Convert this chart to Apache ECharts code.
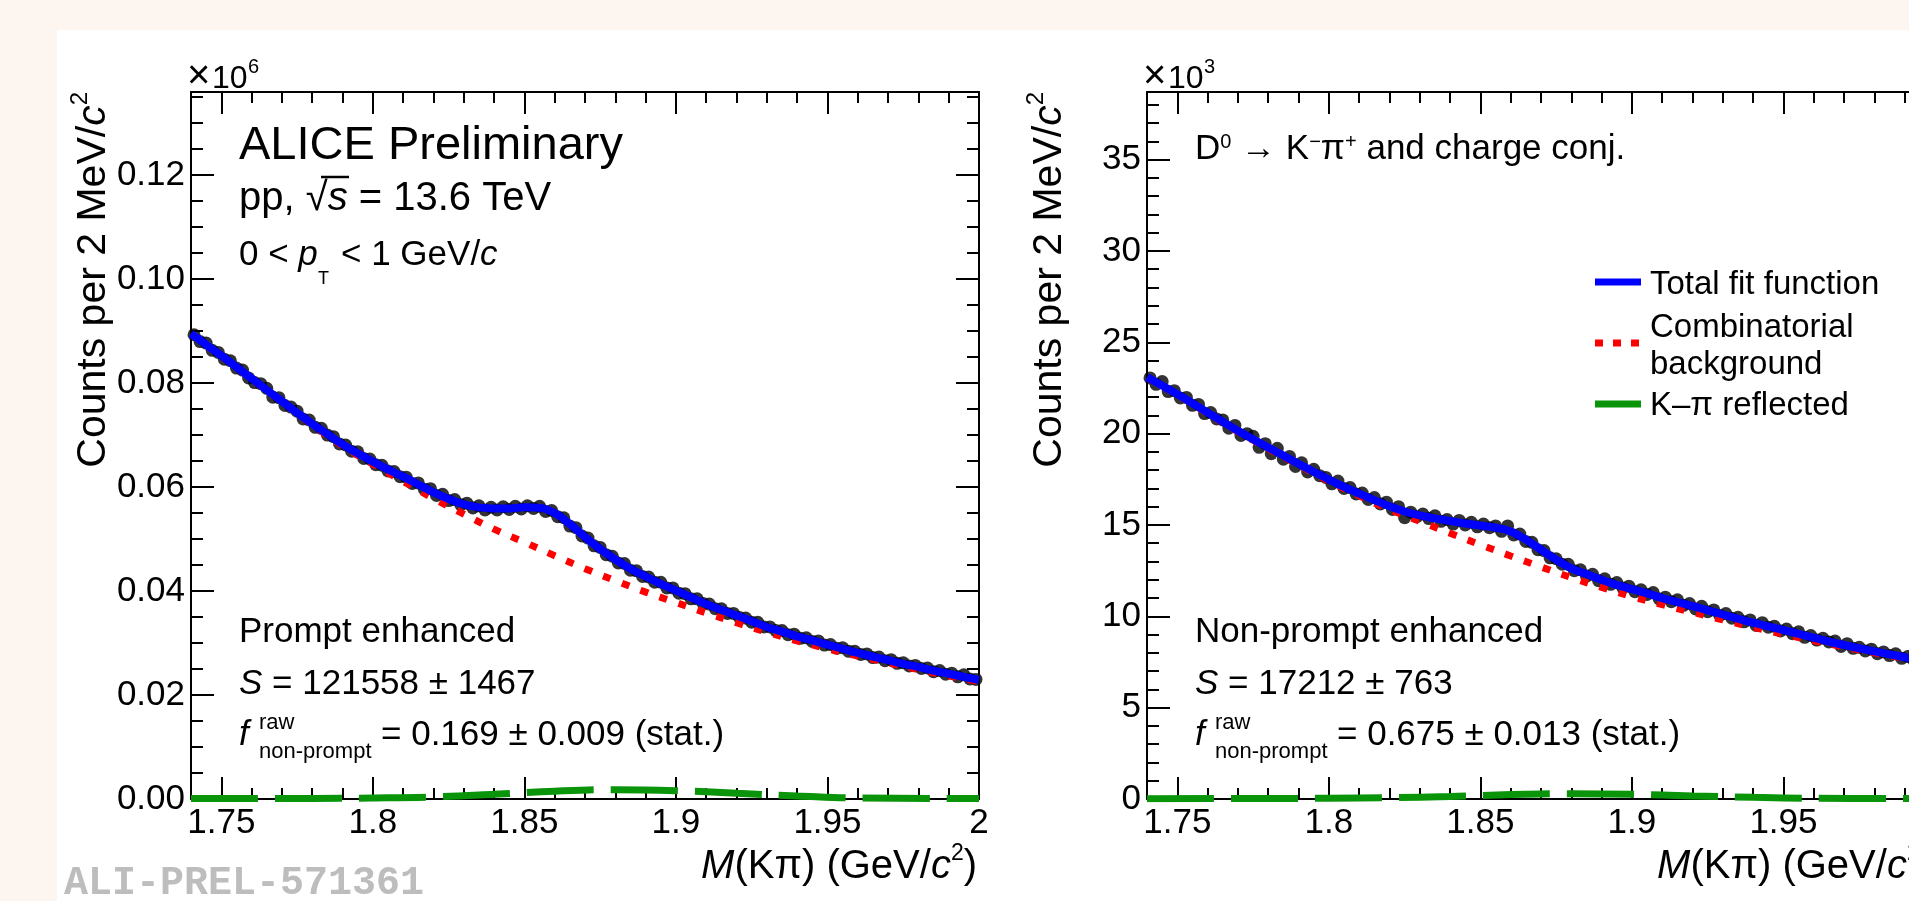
<!DOCTYPE html>
<html><head><meta charset="utf-8">
<script src="https://cdn.jsdelivr.net/npm/echarts/dist/echarts.min.js"></script>
<style>
html,body{margin:0;padding:0;background:#fdf5f0;overflow:hidden;width:1909px;height:901px;}
#panel{position:absolute;left:57px;top:30px;right:0;bottom:0;background:#ffffff;}
#chart{position:absolute;left:0;top:0;width:1909px;height:901px;}
</style></head><body>
<div id="panel"></div><div id="chart"></div>
<script>
// ---------------- data ----------------
const binLo = 1.741, binW = 0.002;          // histogram bin centres
const fitLo = 1.74, fitStep = 0.005, redStep = 0.01;
const xMin = 1.74, xMax = 2.0;
const yMaxL = 0.136, yMaxR = 38.7;           // x10^6 and x10^3
const xTickStep = 0.05, yTickStepL = 0.02, yTickStepR = 5;

// Prompt enhanced (x10^6 counts)
const dataL = [
0.0893,0.0880,0.0877,0.0863,0.0859, 0.0846,0.0843,0.0829,0.0825,0.0810,
0.0801,0.0799,0.0790,0.0773,0.0772, 0.0757,0.0754,0.0746,0.0731,0.0729,
0.0715,0.0713,0.0700,0.0697,0.0683, 0.0681,0.0669,0.0668,0.0655,0.0654,
0.0643,0.0642,0.0631,0.0630,0.0620, 0.0619,0.0607,0.0608,0.0596,0.0597,
0.0584,0.0586,0.0574,0.0576,0.0566, 0.0569,0.0560,0.0564,0.0556,0.0561,
0.0556,0.0562,0.0557,0.0563,0.0558, 0.0564,0.0559,0.0563,0.0553,0.0555,
0.0543,0.0541,0.0525,0.0522,0.0506, 0.0502,0.0487,0.0484,0.0470,0.0467,
0.0454,0.0453,0.0440,0.0439,0.0428, 0.0427,0.0417,0.0417,0.0406,0.0406,
0.0396,0.0395,0.0385,0.0385,0.0376, 0.0375,0.0366,0.0366,0.0357,0.0357,
0.0349,0.0348,0.0340,0.0340,0.0331, 0.0331,0.0324,0.0324,0.0316,0.0317,
0.0309,0.0310,0.0303,0.0304,0.0296, 0.0297,0.0290,0.0291,0.0284,0.0284,
0.0278,0.0279,0.0272,0.0273,0.0266, 0.0268,0.0261,0.0262,0.0256,0.0257,
0.0251,0.0252,0.0245,0.0247,0.0240, 0.0242,0.0235,0.0239,0.0231,0.0230];
const blueL = [
0.0895,0.0874,0.0853,0.0831,0.0809,0.0787,0.0765,0.0743,0.0722,0.0702,
0.0682,0.0665,0.0649,0.0634,0.0620,0.0605,0.0590,0.0577,0.0567,0.0561,
0.0559,0.0559,0.0561,0.0560,0.0550,0.0529,0.0504,0.0481,0.0461,0.0443,
0.0428,0.0414,0.0401,0.0388,0.0375,0.0364,0.0353,0.0342,0.0331,0.0322,
0.0313,0.0305,0.0297,0.0289,0.0281,0.0274,0.0267,0.0260,0.0254,0.0247,
0.0241,0.0235,0.0229];
const redL = [0.0894,0.0852,0.0808,0.0764,0.0720,0.0679,0.0644,0.0611,0.0578,0.0548,
0.0519,0.0494,0.0468,0.0443,0.0420,0.0398,0.0378,0.0358,0.0339,0.0321,
0.0304,0.0289,0.0275,0.0262,0.0249,0.0237,0.0226];
const greenX = [1.74,1.78,1.80,1.82,1.84,1.86,1.88,1.90,1.92,1.94,1.96,2.00];
const greenL = [0.0001,0.0001,0.0002,0.0004,0.0009,0.0015,0.0018,0.0016,0.0011,0.0006,0.0002,0.0001];

// Non-prompt enhanced (x10^3 counts)
const dataR = [
23.05,22.70,22.85,22.30,22.35, 21.95,21.98,21.55,21.60,21.10,
21.15,20.80,20.75,20.30,20.45, 19.90,20.00,19.85,19.25,19.45,
18.90,19.20,18.60,18.75,18.20, 18.40,17.90,18.05,17.70,17.60,
17.25,17.40,17.00,17.05,16.70, 16.75,16.40,16.50,16.15,16.25,
15.85,16.00,15.40,15.70,15.45, 15.60,15.35,15.50,15.20,15.30,
15.05,15.25,15.00,15.15,14.90, 15.05,14.85,14.95,14.65,14.95,
14.45,14.50,14.10,14.05,13.65, 13.60,13.20,13.15,12.85,12.85,
12.50,12.55,12.20,12.30,11.95, 12.05,11.75,11.85,11.55,11.65,
11.35,11.45,11.20,11.30,10.95, 11.05,10.80,10.90,10.60,10.70,
10.40,10.55,10.25,10.35,10.05, 10.15,9.90,9.95,9.70,9.80,
9.50,9.65,9.40,9.45,9.20, 9.30,9.05,9.15,8.85,8.95,
8.70,8.80,8.60,8.65,8.35, 8.50,8.25,8.30,8.10,8.20,
7.95,8.05,7.85,7.95,7.70, 7.80,7.60,7.65,7.50,7.55];
const blueR = [
23.09,22.63,22.16,21.66,21.15,20.65,20.16,19.69,19.24,18.80,
18.35,17.91,17.49,17.09,16.72,16.36,16.03,15.74,15.52,15.36,
15.22,15.08,14.97,14.86,14.64,14.20,13.65,13.10,12.63,12.31,
12.00,11.72,11.49,11.26,11.00,10.78,10.56,10.33,10.10,9.87,
9.65,9.45,9.25,9.04,8.83,8.62,8.43,8.25,8.08,7.92,
7.76,7.60,7.45];
const redR = [23.05,22.12,21.10,20.10,19.18,18.28,17.40,16.60,15.85,15.20,
14.55,13.92,13.30,12.70,12.12,11.58,11.08,10.64,10.22,9.80,
9.40,9.02,8.66,8.32,8.00,7.70,7.42];
const greenR = [0.02,0.03,0.04,0.07,0.14,0.24,0.29,0.26,0.17,0.09,0.04,0.02];

// ---------------- helpers ----------------
const FONT = "'Liberation Sans', Arial, Helvetica, sans-serif";
const binX = dataL.map((_, i) => +(binLo + i * binW).toFixed(3));
const fitX = blueL.map((_, i) => +(fitLo + i * fitStep).toFixed(3));
const redX = redL.map((_, i) => +(fitLo + i * redStep).toFixed(2));
const pairs = (xs, ys) => ys.map((v, i) => [xs[i], v]);
const onStep = (v, s) => Math.abs(v / s - Math.round(v / s)) < 1e-6;

const axLine = {show: true, onZero: false, lineStyle: {color: '#000', width: 2}};
function xAx(grid, pos, showLab) {
  return {type: 'value', gridIndex: grid, position: pos, min: xMin, max: xMax, splitNumber: 5,
    axisLine: axLine,
    axisTick: {show: true, inside: true, length: 22, lineStyle: {color: '#000', width: 2}},
    minorTick: {show: true, splitNumber: 5, length: 11, lineStyle: {color: '#000', width: 2}},
    splitLine: {show: false}, minorSplitLine: {show: false},
    axisLabel: {show: showLab, margin: 7, color: '#000', fontSize: 35, fontFamily: FONT,
      formatter: v => onStep(v, xTickStep) ? String(+v.toFixed(3)) : ''}};
}
function yAx(grid, pos, max, split, minor, step, dec, showLab) {
  return {type: 'value', gridIndex: grid, position: pos, min: 0, max: max, splitNumber: split,
    axisLine: axLine,
    axisTick: {show: true, inside: true, length: 23, lineStyle: {color: '#000', width: 2}},
    minorTick: {show: true, splitNumber: minor, length: 12, lineStyle: {color: '#000', width: 2}},
    splitLine: {show: false}, minorSplitLine: {show: false},
    axisLabel: {show: showLab, margin: 6, color: '#000', fontSize: 35, fontFamily: FONT,
      formatter: v => onStep(v, step) ? v.toFixed(dec) : ''}};
}
function seriesFor(xi, yi, data, blue, red, green) {
  return [
    {type: 'scatter', xAxisIndex: xi, yAxisIndex: yi, data: pairs(binX, data), symbol: 'circle', symbolSize: 13,
     itemStyle: {color: '#000'}, z: 2, silent: true},
    {type: 'line', xAxisIndex: xi, yAxisIndex: yi, data: pairs(greenX, green), showSymbol: false, symbol: 'none', smooth: 0.4,
     lineStyle: {color: '#0a940a', width: 7, type: [67, 17], cap: 'butt'}, z: 3, silent: true},
    {type: 'line', xAxisIndex: xi, yAxisIndex: yi, data: pairs(redX, red), showSymbol: false, symbol: 'none', smooth: 0.4,
     lineStyle: {color: '#ff0000', width: 7, type: [8, 12], cap: 'butt'}, z: 4, silent: true},
    {type: 'line', xAxisIndex: xi, yAxisIndex: yi, data: pairs(fitX, blue), showSymbol: false, symbol: 'none', smooth: 0.4,
     lineStyle: {color: '#0000ff', width: 8}, z: 5, silent: true}
  ];
}

// ---------------- texts ----------------
const g = [];
function rich(s, L, sup) {
  return {
    n: {fontSize: s, fontFamily: FONT, lineHeight: L, fill: '#000'},
    i: {fontSize: s, fontFamily: FONT, fontStyle: 'italic', lineHeight: L, fill: '#000'},
    s: {fontSize: sup, fontFamily: FONT, lineHeight: sup, verticalAlign: 'top', fill: '#000'}
  };
}
function txt(x, base, size, text, o) {
  o = o || {};
  g.push({type: 'text', x: x, y: base - 0.35 * size, z: 100, silent: true,
    style: {text: text, fontSize: size, fontFamily: o.family || FONT, fontStyle: o.italic ? 'italic' : 'normal',
      fontWeight: o.bold ? 'bold' : 'normal', fill: o.color || '#000', align: o.align || 'left',
      verticalAlign: 'middle', rich: o.rich}});
}
function line(x1, y1, x2, y2, color, w, dash) {
  g.push({type: 'line', z: 100, silent: true, shape: {x1, y1, x2, y2},
    style: {stroke: color, lineWidth: w, lineDash: dash || null, lineCap: 'butt'}});
}

function panelTexts(ax, rightX, isLeft) {
  const ox = ax + 48;
  // multiplier
  txt(ax - 4, 91, 40, '\u00d7');
  txt(ax + 21, 90, 32, '10');
  txt(ax + 57, 74, 20, isLeft ? '6' : '3');
  // y title (rotated)
  g.push({type: 'text', x: ax - 83 - 0.35 * 41, y: 92, rotation: Math.PI / 2, z: 100, silent: true,
    style: {text: '{n|Counts per 2 MeV/}{i|c}{s|2}', rich: rich(41, 51, 24), align: 'right', verticalAlign: 'middle'}});
  // x title
  txt(rightX - 2, 881, 40, '{i|M}{n|(K\u03c0) (GeV/}{i|c}{s|2}{n|)}', {align: 'right', rich: rich(40, 50, 23)});
  if (isLeft) {
    txt(ox, 162, 47, 'ALICE Preliminary');
    txt(ox, 213, 40, '{n|pp, \u221a}{i|s}{n| = 13.6 TeV}', {rich: rich(40, 40, 24)});
    line(ox + 82, 177, ox + 110, 177, '#000', 2.5);
    txt(ox, 268, 35, '{n|0 < }{i|p}', {rich: rich(35, 35, 20)});
    txt(ox + 79, 285, 18, 'T');
    txt(ox + 102, 268, 35, '{n|< 1 GeV/}{i|c}', {rich: rich(35, 35, 20)});
    txt(ox, 645, 35, 'Prompt enhanced');
    txt(ox, 697, 35, '{i|S}{n| = 121558 \u00b1 1467}', {rich: rich(35, 35, 20)});
    txt(ox, 748, 35, 'f', {italic: true});
    txt(ox + 20, 731, 22, 'raw');
    txt(ox + 20, 760, 22, 'non-prompt');
    txt(ox + 142, 748, 35, '= 0.169 \u00b1 0.009 (stat.)');
  } else {
    txt(ox, 162, 35, '{n|D}{s|0}{n| \u2192 K}{s|\u2212}{n|\u03c0}{s|+}{n| and charge conj.}', {rich: rich(35, 35, 20)});
    txt(ox, 645, 35, 'Non-prompt enhanced');
    txt(ox, 697, 35, '{i|S}{n| = 17212 \u00b1 763}', {rich: rich(35, 35, 20)});
    txt(ox, 748, 35, 'f', {italic: true});
    txt(ox + 20, 731, 22, 'raw');
    txt(ox + 20, 760, 22, 'non-prompt');
    txt(ox + 142, 748, 35, '= 0.675 \u00b1 0.013 (stat.)');
    // legend
    line(1595, 282, 1641, 282, '#0000ff', 7);
    line(1595, 343, 1641, 343, '#ff0000', 7, [8, 10]);
    line(1595, 404, 1641, 404, '#0a940a', 7);
    txt(1650, 296, 33, 'Total fit function');
    txt(1650, 339, 33, 'Combinatorial');
    txt(1650, 376, 33, 'background');
    txt(1650, 417, 33, 'K\u2013\u03c0 reflected');
  }
}
panelTexts(191, 979, true);
panelTexts(1147, 1935, false);
txt(64, 898, 40, 'ALI-PREL-571361', {family: "'Liberation Mono', 'Courier New', monospace", bold: true, color: '#bdbdbd'});

// ---------------- chart ----------------
const chart = echarts.init(document.getElementById('chart'), null, {renderer: 'canvas'});
chart.setOption({
  animation: false,
  backgroundColor: 'transparent',
  grid: [
    {left: 191, top: 92, width: 788, height: 707, containLabel: false, outerBoundsMode: 'none'},
    {left: 1147, top: 92, width: 788, height: 707, containLabel: false, outerBoundsMode: 'none'}
  ],
  xAxis: [xAx(0, 'bottom', true), xAx(0, 'top', false), xAx(1, 'bottom', true), xAx(1, 'top', false)],
  yAxis: [
    yAx(0, 'left', yMaxL, 7, 4, yTickStepL, 2, true), yAx(0, 'right', yMaxL, 7, 4, yTickStepL, 2, false),
    yAx(1, 'left', yMaxR, 8, 5, yTickStepR, 0, true), yAx(1, 'right', yMaxR, 8, 5, yTickStepR, 0, false)
  ],
  series: [].concat(seriesFor(0, 0, dataL, blueL, redL, greenL), seriesFor(2, 2, dataR, blueR, redR, greenR)),
  graphic: {elements: g}
});
</script></body></html>
